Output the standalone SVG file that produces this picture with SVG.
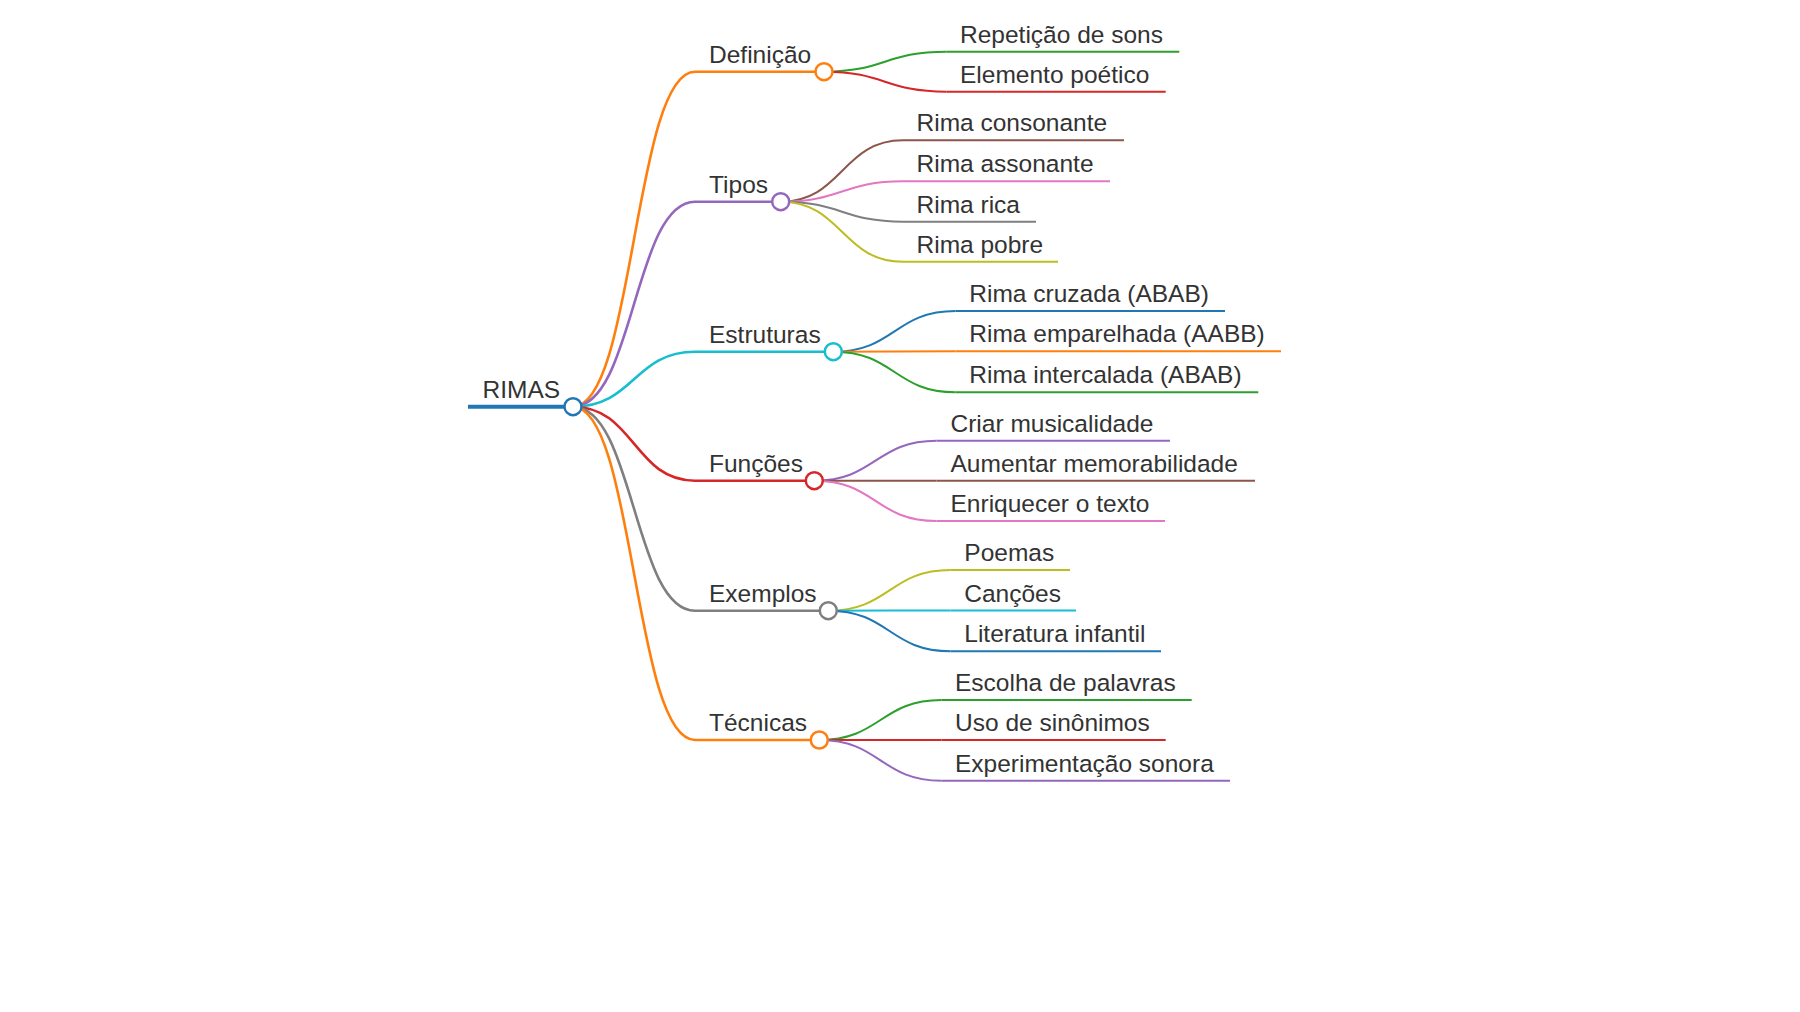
<svg xmlns="http://www.w3.org/2000/svg" width="1800" height="1012" viewBox="0 0 1800 1012">
<style>
text{font-family:"Liberation Sans",Arial,Helvetica,sans-serif;font-size:24.5px;fill:#333333}
.l0{stroke-width:4;fill:none}
.l1{stroke-width:2.6;fill:none}
.l2{stroke-width:2;fill:none}
circle{fill:#ffffff;stroke-width:2.5}
.c-blue{stroke:#1f77b4}.c-orange{stroke:#ff7f0e}.c-green{stroke:#2ca02c}.c-red{stroke:#d62728}.c-purple{stroke:#9467bd}.c-brown{stroke:#8c564b}.c-pink{stroke:#e377c2}.c-gray{stroke:#7f7f7f}.c-olive{stroke:#bcbd22}.c-cyan{stroke:#17becf}
</style>
<rect width="1800" height="1012" fill="#ffffff"/>
<g id="connectors">
<path class="l1 c-orange" d="M573 406.7C634 406.7 634 71.7 695 71.7"/>
<path class="l1 c-purple" d="M573 406.7C634 406.7 634 201.7 695 201.7"/>
<path class="l1 c-cyan" d="M573 406.7C634 406.7 634 351.7 695 351.7"/>
<path class="l1 c-red" d="M573 406.7C634 406.7 634 480.7 695 480.7"/>
<path class="l1 c-gray" d="M573 406.7C634 406.7 634 610.7 695 610.7"/>
<path class="l1 c-orange" d="M573 406.7C634 406.7 634 740 695 740"/>
<path class="l2 c-green" d="M824 71.7C885 71.7 885 51.7 946.3 51.7"/>
<path class="l2 c-red" d="M824 71.7C885 71.7 885 91.7 946.3 91.7"/>
<path class="l2 c-brown" d="M780.7 201.7C842 201.7 842 140.3 903 140.3"/>
<path class="l2 c-pink" d="M780.7 201.7C842 201.7 842 181.3 903 181.3"/>
<path class="l2 c-gray" d="M780.7 201.7C842 201.7 842 221.7 903 221.7"/>
<path class="l2 c-olive" d="M780.7 201.7C842 201.7 842 261.8 903 261.8"/>
<path class="l2 c-blue" d="M833.3 351.7C894.5 351.7 894.5 311 955.6 311"/>
<path class="l2 c-orange" d="M833.3 351.7C894.5 351.7 894.5 351.2 955.6 351.2"/>
<path class="l2 c-green" d="M833.3 351.7C894.5 351.7 894.5 392.3 955.6 392.3"/>
<path class="l2 c-purple" d="M814.3 480.7C875.5 480.7 875.5 440.7 936.6 440.7"/>
<path class="l2 c-brown" d="M814.3 480.7C875.5 480.7 875.5 480.7 936.6 480.7"/>
<path class="l2 c-pink" d="M814.3 480.7C875.5 480.7 875.5 521 936.6 521"/>
<path class="l2 c-olive" d="M828.3 610.7C889.5 610.7 889.5 570 950.6 570"/>
<path class="l2 c-cyan" d="M828.3 610.7C889.5 610.7 889.5 610.5 950.6 610.5"/>
<path class="l2 c-blue" d="M828.3 610.7C889.5 610.7 889.5 651.3 950.6 651.3"/>
<path class="l2 c-green" d="M819.3 740C880.5 740 880.5 700 941.6 700"/>
<path class="l2 c-red" d="M819.3 740C880.5 740 880.5 740 941.6 740"/>
<path class="l2 c-purple" d="M819.3 740C880.5 740 880.5 780.7 941.6 780.7"/>
</g>
<g id="node-rimas"><path class="l0 c-blue" d="M468 406.7H573"/><text x="482.5" y="397.5">RIMAS</text><circle class="c-blue" cx="573" cy="406.7" r="8.5"/></g>
<g id="node-definicao"><path class="l1 c-orange" d="M695 71.7H824"/><text x="709" y="62.7">Definição</text><circle class="c-orange" cx="824" cy="71.7" r="8.5"/></g>
<g id="node-tipos"><path class="l1 c-purple" d="M695 201.7H780.7"/><text x="709" y="192.7">Tipos</text><circle class="c-purple" cx="780.7" cy="201.7" r="8.5"/></g>
<g id="node-estruturas"><path class="l1 c-cyan" d="M695 351.7H833.3"/><text x="709" y="342.7">Estruturas</text><circle class="c-cyan" cx="833.3" cy="351.7" r="8.5"/></g>
<g id="node-funcoes"><path class="l1 c-red" d="M695 480.7H814.3"/><text x="709" y="471.7">Funções</text><circle class="c-red" cx="814.3" cy="480.7" r="8.5"/></g>
<g id="node-exemplos"><path class="l1 c-gray" d="M695 610.7H828.3"/><text x="709" y="601.7">Exemplos</text><circle class="c-gray" cx="828.3" cy="610.7" r="8.5"/></g>
<g id="node-tecnicas"><path class="l1 c-orange" d="M695 740H819.3"/><text x="709" y="731">Técnicas</text><circle class="c-orange" cx="819.3" cy="740" r="8.5"/></g>
<g id="node-repeticao"><path class="l2 c-green" d="M946.3 51.7H1179.3"/><text x="960" y="42.7">Repetição de sons</text></g>
<g id="node-elemento"><path class="l2 c-red" d="M946.3 91.7H1165.7"/><text x="960" y="82.7">Elemento poético</text></g>
<g id="node-consonante"><path class="l2 c-brown" d="M903 140.3H1124"/><text x="916.5" y="131.3">Rima consonante</text></g>
<g id="node-assonante"><path class="l2 c-pink" d="M903 181.3H1110"/><text x="916.5" y="172.3">Rima assonante</text></g>
<g id="node-rica"><path class="l2 c-gray" d="M903 221.7H1036"/><text x="916.5" y="212.7">Rima rica</text></g>
<g id="node-pobre"><path class="l2 c-olive" d="M903 261.8H1058"/><text x="916.5" y="252.8">Rima pobre</text></g>
<g id="node-cruzada"><path class="l2 c-blue" d="M955.6 311H1225"/><text x="969.3" y="302">Rima cruzada (ABAB)</text></g>
<g id="node-emparelhada"><path class="l2 c-orange" d="M955.6 351.2H1281"/><text x="969.3" y="342.2">Rima emparelhada (AABB)</text></g>
<g id="node-intercalada"><path class="l2 c-green" d="M955.6 392.3H1258.3"/><text x="969.3" y="383.3">Rima intercalada (ABAB)</text></g>
<g id="node-musicalidade"><path class="l2 c-purple" d="M936.6 440.7H1170"/><text x="950.5" y="431.7">Criar musicalidade</text></g>
<g id="node-memorabilidade"><path class="l2 c-brown" d="M936.6 480.7H1255"/><text x="950.5" y="471.7">Aumentar memorabilidade</text></g>
<g id="node-enriquecer"><path class="l2 c-pink" d="M936.6 521H1165"/><text x="950.5" y="512">Enriquecer o texto</text></g>
<g id="node-poemas"><path class="l2 c-olive" d="M950.6 570H1070"/><text x="964.3" y="561">Poemas</text></g>
<g id="node-cancoes"><path class="l2 c-cyan" d="M950.6 610.5H1076"/><text x="964.3" y="601.5">Canções</text></g>
<g id="node-literatura"><path class="l2 c-blue" d="M950.6 651.3H1161"/><text x="964.3" y="642.3">Literatura infantil</text></g>
<g id="node-escolha"><path class="l2 c-green" d="M941.6 700H1191.7"/><text x="955" y="691">Escolha de palavras</text></g>
<g id="node-sinonimos"><path class="l2 c-red" d="M941.6 740H1165.7"/><text x="955" y="731">Uso de sinônimos</text></g>
<g id="node-experimentacao"><path class="l2 c-purple" d="M941.6 780.7H1230"/><text x="955" y="771.7">Experimentação sonora</text></g>
</svg>
